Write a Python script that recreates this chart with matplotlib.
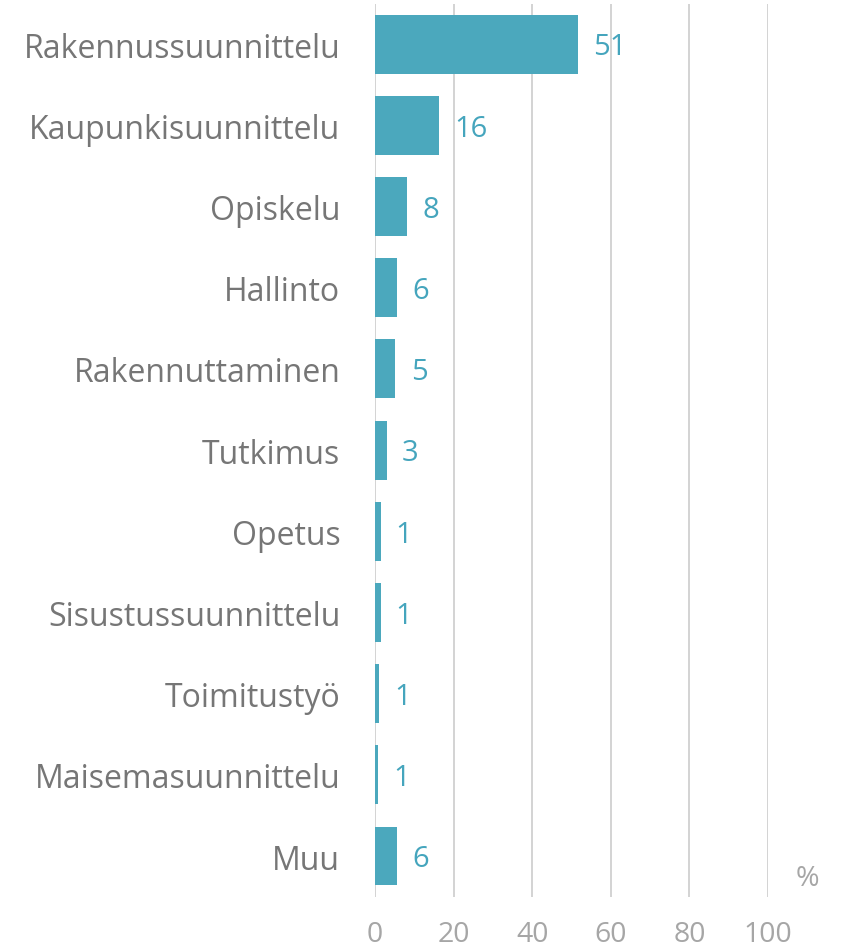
import matplotlib.pyplot as plt

categories = [
    "Rakennussuunnittelu",
    "Kaupunkisuunnittelu",
    "Opiskelu",
    "Hallinto",
    "Rakennuttaminen",
    "Tutkimus",
    "Opetus",
    "Sisustussuunnittelu",
    "Toimitustyö",
    "Maisemasuunnittelu",
    "Muu",
]
values = [51.6, 16.4, 8.1, 5.5, 5.2, 3.0, 1.4, 1.4, 1.1, 0.7, 5.5]
value_labels = ["51", "16", "8", "6", "5", "3", "1", "1", "1", "1", "6"]
x_ticks = [0, 20, 40, 60, 80, 100]

BAR_COLOR = "#4BA8BD"
LABEL_COLOR = "#45A5BD"
TEXT_GRAY = "#767676"
TICK_GRAY = "#A6A6A6"
GRID_GRAY = "#D0D0D0"

plt.rcParams["font.family"] = ["Open Sans", "DejaVu Sans"]

fig = plt.figure(figsize=(8.46, 9.53), dpi=100)
ax = fig.add_axes([375 / 846, 1 - 897.6 / 953, (768 - 375) / 846, (897.6 - 4.6) / 953])

y_pos = list(range(len(categories)))
ax.barh(y_pos, values, height=0.725, color=BAR_COLOR, zorder=3)
ax.set_ylim(len(categories) - 0.5, -0.5)
ax.set_xlim(0, 100)

for y, v, lab in zip(y_pos, values, value_labels):
    ax.annotate(lab, xy=(v, y), xytext=(11, -2), textcoords="offset points",
                va="center", ha="left", fontsize=21, color=LABEL_COLOR)

ax.set_yticks(y_pos)
ax.set_yticklabels(categories, fontsize=23, color=TEXT_GRAY)
ax.set_xticks(x_ticks)
ax.set_xticklabels([str(t) for t in x_ticks], fontsize=20.5, color=TICK_GRAY)
ax.tick_params(axis="y", length=0, pad=25)
ax.tick_params(axis="x", length=0, pad=17)

for t in x_ticks:
    ax.axvline(t, color=GRID_GRAY, linewidth=1.3, zorder=1)

for side in ["top", "right", "bottom", "left"]:
    ax.spines[side].set_visible(False)

fig.text(807 / 846, 1 - 879 / 953, "%", fontsize=20.5, color=TICK_GRAY, ha="center", va="center")

fig.savefig("out.png", dpi=100)
